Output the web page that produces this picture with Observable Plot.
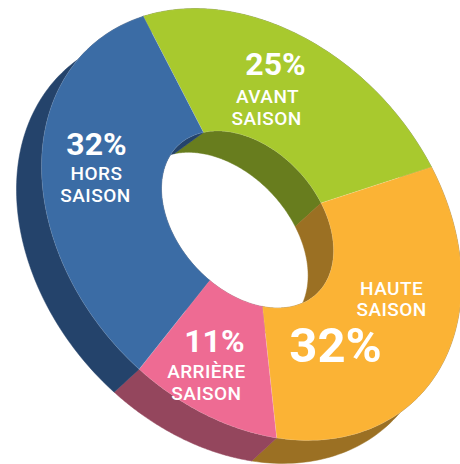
<!DOCTYPE html>
<html>
<head>
<meta charset="utf-8">
<script src="https://cdn.jsdelivr.net/npm/d3@7"></script>
<script src="https://cdn.jsdelivr.net/npm/@observablehq/plot@0.6"></script>
<style>
html,body{margin:0;padding:0;background:#fff}
svg{display:block}
.lbl text{letter-spacing:.45px}
</style>
</head>
<body>
<div id="chart"></div>
<script>
// Data: shares, labels as printed
const seasons = ["AVANT SAISON", "HAUTE SAISON", "ARRIÈRE SAISON", "HORS SAISON"];
const shares = [25, 31.7, 10.9, 32.4];
const shareLabels = ["25%", "32%", "11%", "32%"];
const nameLines = [["AVANT", "SAISON"], ["HAUTE", "SAISON"], ["ARRIÈRE", "SAISON"], ["HORS", "SAISON"]];
const faceColors = ["#a8c92e", "#fbb335", "#ee6b93", "#3b6ca5"];
const wallColors = ["#687d1e", "#9b7023", "#94465d", "#24436b"];

// Projection of the tilted ring
const startDeg = -121;
const rad = Math.PI / 180;
const ellipse = (cx, cy, W, k, V) => t => [cx + W * Math.cos(t), cy + k * Math.cos(t) + V * Math.sin(t)];
const outerTop = ellipse(251, 224, 210, 58, 208);
const outerBack = ellipse(226, 247, 210, 58, 208);
const warp = t => t + (-1.79 + 2.39 * Math.cos(t) - 2.01 * Math.sin(t) + 1.7 * Math.sin(2 * t)) * rad;
const rimE = ellipse(247, 219, 86, 31, 82.9);
const backE = ellipse(219, 243, 88.6, 32, 85.4);
const rimTop = t => rimE(warp(t));
const rimBack = t => backE(warp(t));

// Slices as angle ranges from the shares
const total = d3.sum(shares);
let acc = 0;
const slices = seasons.map((name, i) => {
  const t0 = (startDeg + acc / total * 360) * rad;
  acc += shares[i];
  const t1 = (startDeg + acc / total * 360) * rad;
  return {name, i, t0, t1};
});
const arc = (f, s, rev) => {
  const n = 90;
  const ts = d3.range(n + 1).map(j => s.t0 + (s.t1 - s.t0) * j / n);
  return (rev ? ts.reverse() : ts).map(f);
};
const poly = (s, a, b, color) => {
  const pts = [...arc(a, s, false), ...arc(b, s, true)];
  pts.push(pts[0]);
  return pts.map(([x, y]) => ({x, y, key: s.name, color}));
};
const outerWalls = slices.flatMap(s => poly(s, outerTop, outerBack, wallColors[s.i]));
const innerWalls = slices.flatMap(s => poly(s, rimTop, rimBack, wallColors[s.i]));
const faces = slices.flatMap(s => poly(s, outerTop, rimTop, faceColors[s.i]));

// Label placement: offset in pixels from the middle of each slice's ring
const pctOffset = [[-9.7, -17.1], [-46.6, 35.2], [-6.2, -3.6], [-5.1, -23.4]];
const nameOffset = [
  [[-17.7, 11.4], [-18.7, 33.4]],
  [[9.4, -31.3], [9.4, -10.3]],
  [[-14.2, 22.4], [-14.2, 44.4]],
  [[-5.1, 1.6], [-6.1, 23.6]]
];
const pctSizes = [32, 49, 32, 32];
const anchor = s => {
  const m = (s.t0 + s.t1) / 2, a = outerTop(m), b = rimTop(m);
  return [(a[0] + b[0]) / 2, (a[1] + b[1]) / 2];
};
const pctRows = slices.map(s => {
  const [ax, ay] = anchor(s);
  return {x: ax + pctOffset[s.i][0], y: ay + pctOffset[s.i][1], text: shareLabels[s.i], size: pctSizes[s.i]};
});
const nameRows = slices.flatMap(s => {
  const [ax, ay] = anchor(s);
  return nameLines[s.i].map((text, j) => ({x: ax + nameOffset[s.i][j][0], y: ay + nameOffset[s.i][j][1], text}));
});

const chart = Plot.plot({
  width: 460, height: 464, margin: 0,
  x: {domain: [0, 460], range: [0, 460], axis: null},
  y: {domain: [0, 464], range: [0, 464], axis: null},
  marks: [
    Plot.line(outerWalls, {x: "x", y: "y", z: "key", fill: "color", stroke: "color", strokeWidth: .5}),
    Plot.line(innerWalls, {x: "x", y: "y", z: "key", fill: "color", stroke: "color", strokeWidth: .5}),
    Plot.line(faces, {x: "x", y: "y", z: "key", fill: "color", stroke: "#fff", strokeOpacity: .2, strokeWidth: .6}),
    Plot.text(pctRows, {x: "x", y: "y", text: "text", fontSize: "size", fontWeight: 700, fontFamily: "Roboto", fill: "#fff", lineAnchor: "bottom", textAnchor: "middle"}),
    Plot.text(nameRows, {x: "x", y: "y", text: "text", fontSize: 19, fontWeight: 500, fontFamily: "Roboto", fill: "#fff", lineAnchor: "bottom", textAnchor: "middle", className: "lbl"})
  ]
});
document.getElementById("chart").appendChild(chart);
</script>
</body>
</html>
